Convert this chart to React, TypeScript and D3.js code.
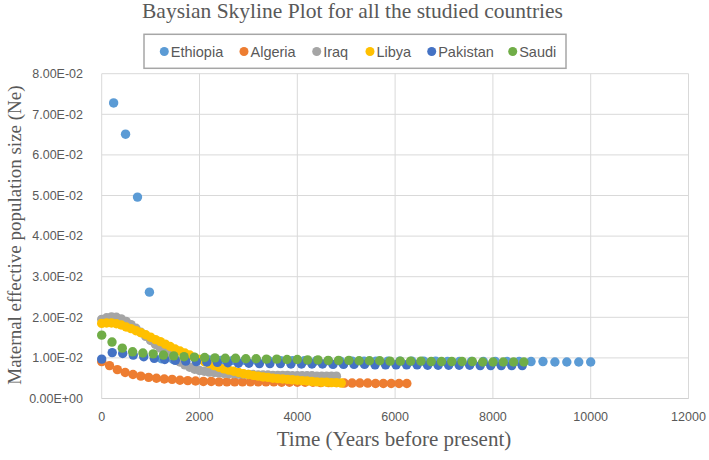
import React from "react";
import * as d3 from "d3";

const seriesNames = ["Ethiopia", "Algeria", "Iraq", "Libya", "Pakistan", "Saudi"];
const seriesColors = ["#5b9bd5", "#ed7d31", "#a5a5a5", "#ffc000", "#4472c4", "#70ad47"];

const xTicks = [0, 2000, 4000, 6000, 8000, 10000, 12000];
const yTicks = [0, 0.01, 0.02, 0.03, 0.04, 0.05, 0.06, 0.07, 0.08];
const yTickLabels = ["0.00E+00", "1.00E-02", "2.00E-02", "3.00E-02", "4.00E-02", "5.00E-02", "6.00E-02", "7.00E-02", "8.00E-02"];

const ethiopiaYears = [244, 488, 732, 976, 1220, 1463, 1707, 1951, 2195, 2439, 2683, 2927, 3171, 3415, 3659, 3902, 4146, 4390, 4634, 4878, 5122, 5366, 5610, 5854, 6098, 6341, 6585, 6829, 7073, 7317, 7561, 7805, 8049, 8293, 8537, 8780, 9024, 9268, 9512, 9756, 10000];
const ethiopiaNe = [0.0728, 0.0651, 0.0496, 0.0262, 0.0098, 0.0096, 0.0095, 0.0095, 0.0095, 0.0094, 0.0094, 0.0094, 0.0094, 0.0093, 0.0093, 0.0093, 0.0093, 0.0093, 0.0093, 0.0092, 0.0092, 0.0092, 0.0092, 0.0092, 0.0092, 0.0092, 0.0092, 0.0092, 0.0091, 0.0091, 0.0091, 0.0091, 0.0091, 0.0091, 0.0091, 0.0091, 0.0091, 0.0090, 0.0090, 0.0090, 0.0090];

const algeriaYears = [0, 160, 320, 480, 640, 800, 960, 1120, 1280, 1440, 1600, 1760, 1920, 2080, 2240, 2400, 2560, 2720, 2880, 3040, 3200, 3360, 3520, 3680, 3840, 4000, 4160, 4320, 4480, 4640, 4800, 4960, 5120, 5280, 5440, 5600, 5760, 5920, 6080, 6240];
const algeriaNe = [0.0091, 0.0081, 0.0071, 0.0064, 0.0059, 0.0055, 0.0052, 0.0050, 0.0048, 0.0047, 0.0045, 0.0044, 0.0043, 0.0042, 0.0042, 0.0041, 0.0041, 0.0041, 0.0041, 0.0041, 0.0041, 0.0041, 0.0041, 0.0040, 0.0040, 0.0040, 0.0040, 0.0040, 0.0039, 0.0039, 0.0039, 0.0038, 0.0038, 0.0038, 0.0038, 0.0037, 0.0037, 0.0037, 0.0037, 0.0037];

const denseYears = [0, 100, 200, 300, 400, 500, 600, 700, 800, 900, 1000, 1100, 1200, 1300, 1400, 1500, 1600, 1700, 1800, 1900, 2000, 2100, 2200, 2300, 2400, 2500, 2600, 2700, 2800, 2900, 3000, 3100, 3200, 3300, 3400, 3500, 3600, 3700, 3800, 3900, 4000, 4100, 4200, 4300, 4400, 4500, 4600, 4700, 4800, 4900];

const iraqNe = [0.0195, 0.0199, 0.0201, 0.0200, 0.0196, 0.0190, 0.0182, 0.0173, 0.0163, 0.0153, 0.0143, 0.0133, 0.0124, 0.0115, 0.0106, 0.0098, 0.0090, 0.0083, 0.0077, 0.0072, 0.0069, 0.0067, 0.0065, 0.0064, 0.0063, 0.0062, 0.0061, 0.0061, 0.0060, 0.0060, 0.0059, 0.0059, 0.0058, 0.0058, 0.0058, 0.0057, 0.0057, 0.0057, 0.0057, 0.0056, 0.0056, 0.0056, 0.0056, 0.0056, 0.0055, 0.0055, 0.0055, 0.0055, 0.0055];

const libyaNe = [0.0185, 0.0186, 0.0186, 0.0184, 0.0181, 0.0176, 0.0172, 0.0167, 0.0162, 0.0157, 0.0151, 0.0145, 0.0140, 0.0134, 0.0128, 0.0122, 0.0117, 0.0112, 0.0107, 0.0101, 0.0096, 0.0091, 0.0086, 0.0081, 0.0077, 0.0073, 0.0070, 0.0067, 0.0064, 0.0061, 0.0059, 0.0057, 0.0055, 0.0053, 0.0052, 0.0050, 0.0049, 0.0048, 0.0047, 0.0046, 0.0045, 0.0044, 0.0043, 0.0042, 0.0041, 0.0040, 0.0040, 0.0039, 0.0039, 0.0038];

const pakistanYears = [0, 215, 430, 645, 860, 1075, 1290, 1505, 1720, 1935, 2150, 2365, 2580, 2795, 3010, 3225, 3440, 3655, 3870, 4085, 4300, 4515, 4730, 4945, 5160, 5375, 5590, 5805, 6020, 6235, 6450, 6665, 6880, 7095, 7310, 7525, 7740, 7955, 8170, 8385, 8600];
const pakistanNe = [0.0097, 0.0113, 0.0111, 0.0107, 0.0103, 0.0099, 0.0096, 0.0094, 0.0092, 0.0091, 0.0090, 0.0089, 0.0088, 0.0087, 0.0087, 0.0086, 0.0086, 0.0086, 0.0085, 0.0085, 0.0085, 0.0085, 0.0084, 0.0084, 0.0084, 0.0084, 0.0083, 0.0083, 0.0083, 0.0083, 0.0083, 0.0082, 0.0082, 0.0082, 0.0082, 0.0082, 0.0081, 0.0081, 0.0081, 0.0081, 0.0081];

const saudiYears = [0, 211, 421, 632, 842, 1053, 1263, 1474, 1684, 1895, 2106, 2316, 2527, 2737, 2948, 3158, 3369, 3580, 3790, 4001, 4211, 4422, 4632, 4843, 5054, 5264, 5475, 5685, 5896, 6106, 6317, 6528, 6738, 6949, 7159, 7370, 7580, 7791, 8002, 8212, 8423, 8633];
const saudiNe = [0.0156, 0.0139, 0.0124, 0.0115, 0.0112, 0.0110, 0.0107, 0.0105, 0.0103, 0.0102, 0.0101, 0.0100, 0.0099, 0.0099, 0.0098, 0.0098, 0.0097, 0.0097, 0.0096, 0.0096, 0.0095, 0.0095, 0.0094, 0.0094, 0.0094, 0.0093, 0.0093, 0.0093, 0.0092, 0.0092, 0.0092, 0.0092, 0.0091, 0.0091, 0.0091, 0.0091, 0.0091, 0.0090, 0.0090, 0.0090, 0.0090, 0.0090];

const seriesYears = [ethiopiaYears, algeriaYears, denseYears, denseYears, pakistanYears, saudiYears];
const seriesValues = [ethiopiaNe, algeriaNe, iraqNe, libyaNe, pakistanNe, saudiNe];

const W = 709;
const H = 460;
const plot = { left: 101.7, right: 688.5, top: 73.7, bottom: 398.5 };
const legendX = [164.3, 244, 316.7, 370, 431.7, 512.7];

export default function App() {
  const x = d3.scaleLinear().domain([0, 12000]).range([plot.left, plot.right]);
  const y = d3.scaleLinear().domain([0, 0.08]).range([plot.bottom, plot.top]);
  const tickFont = "'Liberation Sans', Arial, sans-serif";
  const serif = "'Liberation Serif', 'Times New Roman', serif";
  const textColor = "#595959";

  return (
    <div style={{ position: "absolute", left: 0, top: 0 }}>
      <svg width={W} height={H} style={{ display: "block", background: "#fff" }}>
        <text x={352.5} y={17.5} textAnchor="middle" fontFamily={serif} fontSize={21.5} fill={textColor}>
          Baysian Skyline Plot for all the studied countries
        </text>

        {/* gridlines */}
        {yTicks.map((t) => (
          <line key={"gy" + t} x1={plot.left} x2={plot.right} y1={y(t)} y2={y(t)} stroke="#d9d9d9" strokeWidth={1} />
        ))}
        {xTicks.map((t) => (
          <line key={"gx" + t} x1={x(t)} x2={x(t)} y1={plot.top} y2={plot.bottom} stroke="#d9d9d9" strokeWidth={1} />
        ))}
        <line x1={plot.left} x2={plot.right} y1={plot.bottom} y2={plot.bottom} stroke="#d0d0d0" strokeWidth={1} />

        {/* tick labels */}
        {yTicks.map((t, i) => (
          <text key={"ty" + t} x={83} y={y(t)} dy="0.35em" textAnchor="end" fontFamily={tickFont} fontSize={12.5} fill={textColor}>
            {yTickLabels[i]}
          </text>
        ))}
        {xTicks.map((t) => (
          <text key={"tx" + t} x={x(t)} y={420.5} textAnchor="middle" fontFamily={tickFont} fontSize={12.5} fill={textColor}>
            {t}
          </text>
        ))}

        {/* points */}
        {seriesValues.map((vals, si) => (
          <g key={"s" + si} fill={seriesColors[si]}>
            {vals.map((v, i) => (
              <circle key={i} cx={x(seriesYears[si][i])} cy={y(v)} r={4.7} />
            ))}
          </g>
        ))}

        {/* axis titles */}
        <text
          transform={`translate(20.5, ${(plot.top + plot.bottom) / 2 - 1}) rotate(-90)`}
          textAnchor="middle"
          fontFamily={serif}
          fontSize={19}
          fill={textColor}
        >
          Maternal effective population size (Ne)
        </text>
        <text x={394} y={446} textAnchor="middle" fontFamily={serif} fontSize={21} fill={textColor}>
          Time (Years before present)
        </text>

        {/* legend */}
        <rect x={144} y={34.3} width={422} height={34} fill="#fff" stroke="#a6a6a6" strokeWidth={1.5} />
        {seriesNames.map((n, i) => (
          <g key={"l" + n}>
            <circle cx={legendX[i]} cy={51.5} r={4.5} fill={seriesColors[i]} />
            <text x={legendX[i] + 6.5} y={51.5} dy="0.36em" fontFamily={tickFont} fontSize={14.5} fill={textColor}>
              {n}
            </text>
          </g>
        ))}
      </svg>
    </div>
  );
}
